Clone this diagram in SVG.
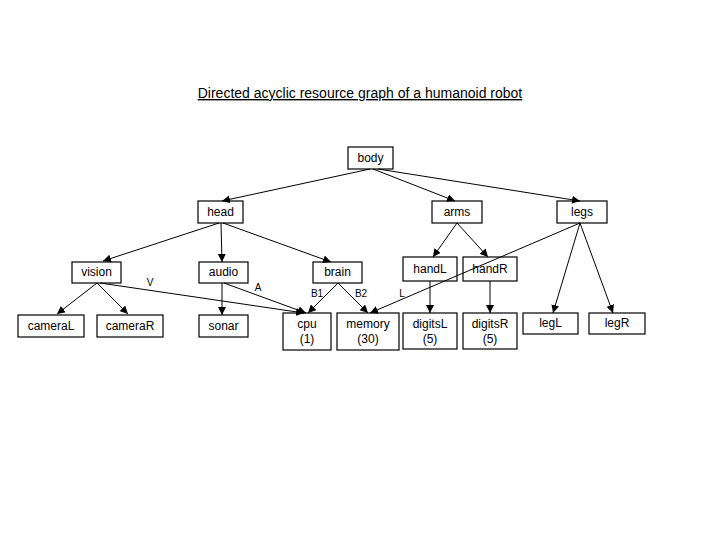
<svg xmlns="http://www.w3.org/2000/svg" width="720" height="540" viewBox="0 0 720 540">
<style>
.n rect{fill:#fff;stroke:#000;stroke-width:1.2}
.n text,.lbl{font-family:"Liberation Sans",Arial,sans-serif;font-size:12px;fill:#000;text-anchor:middle}
.lbl{font-size:10px}
.e line{stroke:#000;stroke-width:1;marker-end:url(#a)}
.t{font-family:"Liberation Sans",Arial,sans-serif;font-size:14px;text-anchor:middle;text-decoration:underline}
</style>
<defs>
<marker id="a" viewBox="0 0 10 10" refX="10" refY="5" markerWidth="8" markerHeight="8" markerUnits="userSpaceOnUse" orient="auto"><path d="M0,0L10,5L0,10z" fill="#000"/></marker>
</defs>
<rect width="720" height="540" fill="#fff"/>
<text class="t" x="360" y="98">Directed acyclic resource graph of a humanoid robot</text>
<g class="n" id="body"><rect x="348" y="147" width="45" height="22"/><text x="370.5" y="162">body</text></g>
<g class="n" id="head"><rect x="198" y="201" width="45" height="22"/><text x="220.5" y="216">head</text></g>
<g class="n" id="arms"><rect x="432" y="201" width="50" height="22"/><text x="457" y="216">arms</text></g>
<g class="n" id="legs"><rect x="557" y="201" width="50" height="22"/><text x="582" y="216">legs</text></g>
<g class="n" id="vision"><rect x="72" y="262" width="49" height="21"/><text x="96.5" y="276">vision</text></g>
<g class="n" id="audio"><rect x="199" y="262" width="49" height="21"/><text x="223.5" y="276">audio</text></g>
<g class="n" id="brain"><rect x="313" y="262" width="49" height="21"/><text x="337.5" y="276">brain</text></g>
<g class="n" id="handL"><rect x="403" y="257" width="54" height="24"/><text x="430" y="273">handL</text></g>
<g class="n" id="handR"><rect x="463" y="257" width="54" height="24"/><text x="490" y="273">handR</text></g>
<g class="n" id="cameraL"><rect x="18" y="315" width="66" height="22"/><text x="51" y="330">cameraL</text></g>
<g class="n" id="cameraR"><rect x="97" y="315" width="66" height="22"/><text x="130" y="330">cameraR</text></g>
<g class="n" id="sonar"><rect x="199" y="315" width="49" height="22"/><text x="223.5" y="330">sonar</text></g>
<g class="n" id="cpu"><rect x="283" y="313" width="48" height="37"/><text x="307" y="328">cpu</text><text x="307" y="343">(1)</text></g>
<g class="n" id="memory"><rect x="337" y="313" width="62" height="37"/><text x="368" y="328">memory</text><text x="368" y="343">(30)</text></g>
<g class="n" id="digitsL"><rect x="403" y="313" width="54" height="36"/><text x="430" y="328">digitsL</text><text x="430" y="343">(5)</text></g>
<g class="n" id="digitsR"><rect x="463" y="313" width="54" height="36"/><text x="490" y="328">digitsR</text><text x="490" y="343">(5)</text></g>
<g class="n" id="legL"><rect x="523" y="313" width="55" height="21"/><text x="550.5" y="327">legL</text></g>
<g class="n" id="legR"><rect x="589" y="313" width="56" height="21"/><text x="617" y="327">legR</text></g>
<g class="e" id="edges">
<line x1="370" y1="169" x2="222" y2="201"/>
<line x1="373" y1="169" x2="455" y2="201"/>
<line x1="378" y1="169" x2="580" y2="201"/>
<line x1="219" y1="223" x2="103" y2="261"/>
<line x1="221" y1="223" x2="222" y2="262"/>
<line x1="223" y1="223" x2="331" y2="262"/>
<line x1="457" y1="223" x2="433" y2="257"/>
<line x1="457" y1="223" x2="488" y2="257"/>
<line x1="580" y1="223" x2="370" y2="313"/>
<line x1="580" y1="223" x2="553" y2="313"/>
<line x1="580" y1="223" x2="613" y2="313"/>
<line x1="97" y1="283" x2="57" y2="314"/>
<line x1="97" y1="283" x2="128" y2="314"/>
<line x1="100" y1="283" x2="304" y2="313"/>
<line x1="222" y1="283" x2="222" y2="315"/>
<line x1="224" y1="283" x2="306" y2="313"/>
<line x1="338" y1="283" x2="308" y2="313"/>
<line x1="338" y1="283" x2="368" y2="313"/>
<line x1="430" y1="281" x2="430" y2="313"/>
<line x1="490" y1="281" x2="490" y2="313"/>
<text class="lbl" x="150" y="286">V</text>
<text class="lbl" x="258" y="291">A</text>
<text class="lbl" x="317" y="297">B1</text>
<text class="lbl" x="361" y="297">B2</text>
<text class="lbl" x="402" y="297">L</text>
</g>
</svg>
